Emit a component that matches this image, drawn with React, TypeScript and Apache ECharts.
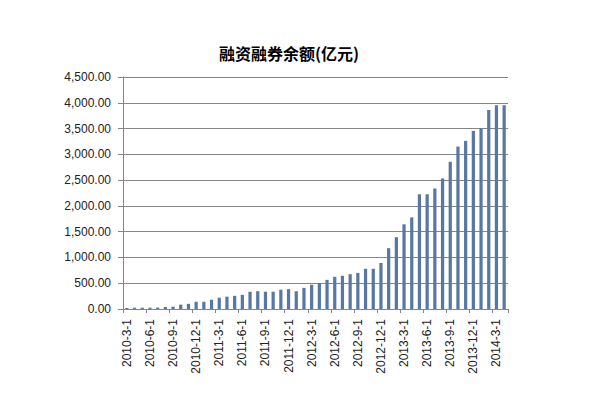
import React, { useEffect, useRef } from "react";
import * as echarts from "echarts";

const title = "融资融券余额(亿元)";

const months: string[] = (() => {
  const out: string[] = [];
  for (let y = 2010; y <= 2014; y++) {
    for (let m = 1; m <= 12; m++) {
      if (y === 2010 && m < 3) continue;
      if (y === 2014 && m > 4) continue;
      out.push(`${y}-${m}-1`);
    }
  }
  return out;
})();

const balance: number[] = [
  20, 25, 25, 25, 28, 40, 45, 85, 100, 140,
  140, 180, 220, 240, 255, 275, 335, 345, 335, 335,
  375, 385, 345, 410, 470, 500, 565, 625, 645, 675,
  700, 780, 780, 893, 1180, 1392, 1643, 1777, 2225, 2225,
  2337, 2533, 2855, 3150, 3262, 3455, 3505, 3860, 3952, 3952,
];

const yTicks = { min: 0, max: 4500, interval: 500 };

export default function App() {
  const ref = useRef<HTMLDivElement>(null);
  useEffect(() => {
    if (!ref.current) return;
    const chart = echarts.init(ref.current, undefined, { renderer: "svg" });
    const font = "'Liberation Sans', Arial, sans-serif";
    chart.setOption({
      animation: false,
      backgroundColor: "#ffffff",
      title: {
        text: title,
        left: 214,
        top: 40,
        textStyle: {
          fontFamily: "'Noto Sans CJK SC', sans-serif",
          fontSize: 16,
          fontWeight: "bold",
          color: "#000000",
        },
      },
      grid: { left: 123, right: 93, top: 77, bottom: 89, containLabel: false },
      xAxis: {
        type: "category",
        data: months,
        boundaryGap: true,
        axisLine: { lineStyle: { color: "#868686", width: 1 } },
        axisTick: { show: true, interval: 2, length: 4, lineStyle: { color: "#868686" } },
        axisLabel: {
          interval: 2,
          rotate: 90,
          margin: 10,
          fontFamily: font,
          fontSize: 12,
          color: "#222222",
        },
        splitLine: { show: false },
      },
      yAxis: {
        type: "value",
        min: yTicks.min,
        max: yTicks.max,
        interval: yTicks.interval,
        axisLine: { show: true, lineStyle: { color: "#868686", width: 1 } },
        axisTick: { show: true, length: 5, lineStyle: { color: "#868686" } },
        axisLabel: {
          margin: 12,
          fontFamily: font,
          fontSize: 12,
          color: "#222222",
          formatter: (v: number) =>
            v.toLocaleString("en-US", { minimumFractionDigits: 2, maximumFractionDigits: 2 }),
        },
        splitLine: { lineStyle: { color: "#868686", width: 1 } },
      },
      series: [
        {
          type: "bar",
          data: balance,
          barCategoryGap: "58%",
          itemStyle: { color: "#5878a2" },
        },
      ],
    });
    return () => chart.dispose();
  }, []);
  return <div ref={ref} style={{ width: 601, height: 398, margin: -8 }} />;
}
